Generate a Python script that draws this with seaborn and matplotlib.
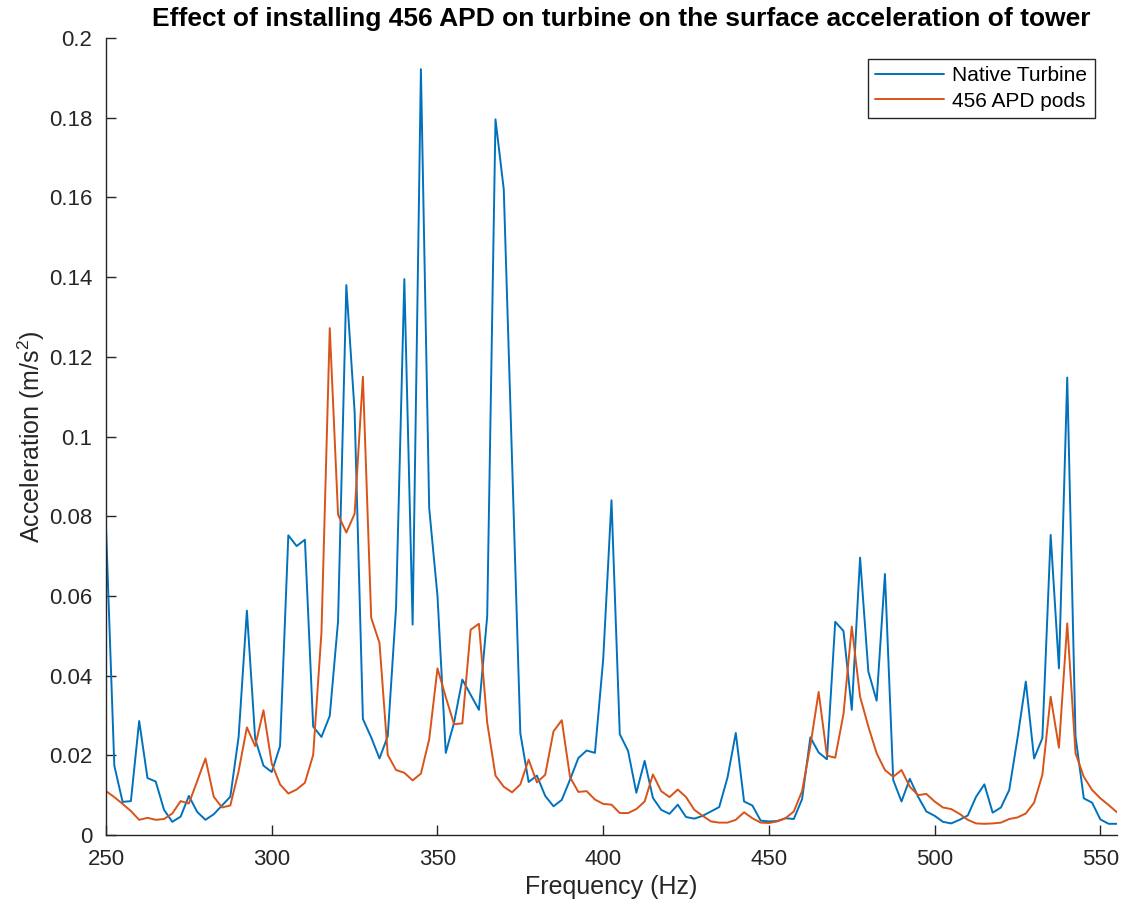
import numpy as np
import pandas as pd
import matplotlib
matplotlib.use("Agg")
import matplotlib.pyplot as plt
import seaborn as sns

freq_start, freq_step = 250.0, 2.5

native_turbine = [
    0.0770, 0.0174, 0.0083, 0.0085, 0.0286, 0.0143, 0.0134, 0.0063, 0.0033, 0.0046,
    0.0098, 0.0058, 0.0038, 0.0052, 0.0074, 0.0096, 0.0246, 0.0563, 0.0241, 0.0174,
    0.0158, 0.0223, 0.0752, 0.0725, 0.0741, 0.0272, 0.0246, 0.0299, 0.0536, 0.1380,
    0.1062, 0.0291, 0.0245, 0.0192, 0.0248, 0.0570, 0.1395, 0.0528, 0.1922, 0.0820,
    0.0600, 0.0206, 0.0282, 0.0390, 0.0352, 0.0314, 0.0549, 0.1796, 0.1620, 0.0940,
    0.0255, 0.0133, 0.0149, 0.0098, 0.0072, 0.0088, 0.0139, 0.0193, 0.0212, 0.0206,
    0.0441, 0.0840, 0.0253, 0.0211, 0.0106, 0.0186, 0.0093, 0.0063, 0.0053, 0.0076,
    0.0045, 0.0041, 0.0048, 0.0059, 0.0070, 0.0144, 0.0256, 0.0084, 0.0074, 0.0036,
    0.0034, 0.0035, 0.0042, 0.0040, 0.0090, 0.0245, 0.0207, 0.0190, 0.0535, 0.0512,
    0.0314, 0.0696, 0.0410, 0.0337, 0.0655, 0.0138, 0.0084, 0.0141, 0.0096, 0.0059,
    0.0048, 0.0033, 0.0029, 0.0038, 0.0049, 0.0096, 0.0127, 0.0056, 0.0069, 0.0113,
    0.0243, 0.0385, 0.0192, 0.0243, 0.0753, 0.0418, 0.1148, 0.0247, 0.0092, 0.0081,
    0.0039, 0.0028, 0.0028,
]

apd_pods = [
    0.0110, 0.0095, 0.0078, 0.0060, 0.0038, 0.0043, 0.0038, 0.0040, 0.0054, 0.0085,
    0.0079, 0.0135, 0.0192, 0.0096, 0.0069, 0.0074, 0.0160, 0.0270, 0.0223, 0.0313,
    0.0179, 0.0127, 0.0104, 0.0114, 0.0131, 0.0201, 0.0509, 0.1272, 0.0804, 0.0759,
    0.0806, 0.1150, 0.0545, 0.0482, 0.0201, 0.0163, 0.0156, 0.0137, 0.0154, 0.0240,
    0.0418, 0.0346, 0.0278, 0.0280, 0.0515, 0.0530, 0.0282, 0.0149, 0.0121, 0.0107,
    0.0127, 0.0189, 0.0132, 0.0151, 0.0260, 0.0288, 0.0145, 0.0108, 0.0110, 0.0089,
    0.0078, 0.0076, 0.0055, 0.0055, 0.0065, 0.0084, 0.0152, 0.0110, 0.0095, 0.0114,
    0.0095, 0.0063, 0.0048, 0.0034, 0.0031, 0.0031, 0.0038, 0.0057, 0.0042, 0.0031,
    0.0030, 0.0034, 0.0042, 0.0059, 0.0110, 0.0224, 0.0359, 0.0199, 0.0194, 0.0304,
    0.0523, 0.0347, 0.0272, 0.0205, 0.0163, 0.0146, 0.0163, 0.0121, 0.0100, 0.0103,
    0.0084, 0.0069, 0.0065, 0.0053, 0.0038, 0.0029, 0.0028, 0.0029, 0.0031, 0.0040,
    0.0044, 0.0054, 0.0081, 0.0151, 0.0347, 0.0219, 0.0531, 0.0205, 0.0146, 0.0113,
    0.0092, 0.0075, 0.0057,
]

series_names = ["Native Turbine", "456 APD pods"]
x_ticks = [250, 300, 350, 400, 450, 500, 550]
y_ticks = [0, 0.02, 0.04, 0.06, 0.08, 0.1, 0.12, 0.14, 0.16, 0.18, 0.2]
y_tick_labels = ["0", "0.02", "0.04", "0.06", "0.08", "0.1", "0.12", "0.14", "0.16", "0.18", "0.2"]

freqs = [freq_start + freq_step * i for i in range(len(native_turbine))]

df = pd.DataFrame({
    "Frequency": freqs * 2,
    "Acceleration": native_turbine + apd_pods,
    "Series": [series_names[0]] * len(native_turbine) + [series_names[1]] * len(apd_pods),
})

sns.set_theme(style="white")
plt.rcParams["font.family"] = ["Liberation Sans", "DejaVu Sans"]
plt.rcParams["mathtext.fontset"] = "custom"
plt.rcParams["mathtext.rm"] = "Liberation Sans"
plt.rcParams["mathtext.it"] = "Liberation Sans:italic"

axis_color = "#262626"
text_color = "#262626"
fig = plt.figure(figsize=(11.22, 9.06), dpi=100)
ax = fig.add_axes([0.0945, 0.0784, 0.901, 0.8796])

sns.lineplot(data=df, x="Frequency", y="Acceleration", hue="Series",
             palette=["#0072BD", "#D95319"], linewidth=1.4, ax=ax, legend=True)

ax.set_xlim(250, 555)
ax.set_ylim(0, 0.2)
ax.set_xticks(x_ticks)
ax.set_yticks(y_ticks)
ax.set_yticklabels(y_tick_labels)
ax.tick_params(direction="in", length=7, width=1.0, color=axis_color,
               labelcolor=text_color, labelsize=16, bottom=True, left=True)
ax.tick_params(axis="x", pad=10)
ax.tick_params(axis="y", pad=10)
for side in ["top", "right"]:
    ax.spines[side].set_visible(False)
for side in ["left", "bottom"]:
    ax.spines[side].set_color(axis_color)
    ax.spines[side].set_linewidth(1.0)

ax.set_xlabel("Frequency (Hz)", fontsize=18, color=text_color, labelpad=4)
ax.set_ylabel("Acceleration (m/s$^2$)", fontsize=18, color=text_color, labelpad=1)
ax.set_title("Effect of installing 456 APD on turbine on the surface acceleration of tower",
             fontsize=19, fontweight="bold", color="black", pad=9, x=0.51)

leg = ax.legend(loc="upper right", bbox_to_anchor=(0.978, 0.9735), fontsize=15,
                frameon=True, fancybox=False, edgecolor=axis_color, framealpha=1,
                handlelength=3.3, borderpad=0.35, labelspacing=0.3, handletextpad=0.4,
                borderaxespad=0)
leg.get_frame().set_linewidth(1.0)
leg.set_title(None)
for t in leg.get_texts():
    t.set_color("black")

fig.savefig("out.png", dpi=100)
